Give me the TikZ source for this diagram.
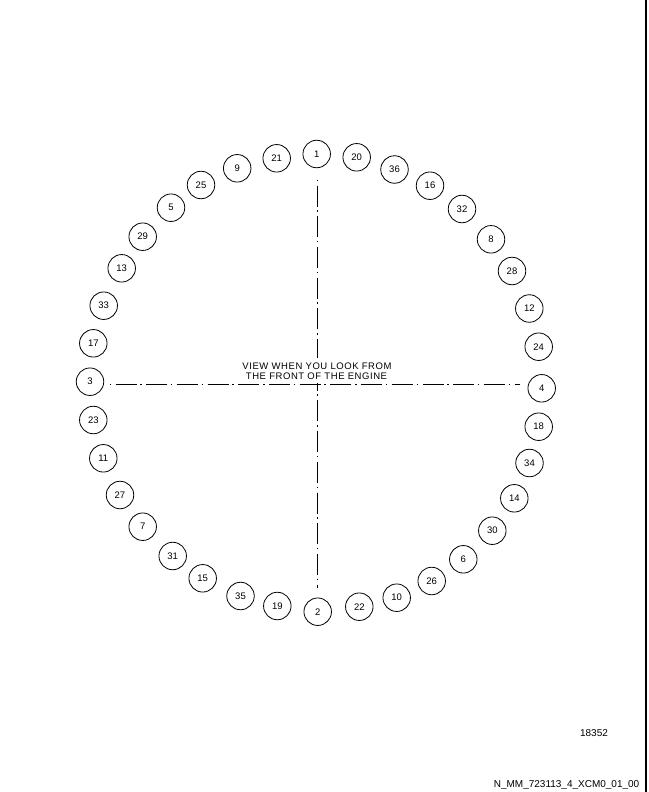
\documentclass[tikz,border=0pt]{standalone}
\usepackage{fontspec}
\setmainfont{Liberation Sans}
\newfontfamily\capfont[LetterSpace=6]{Liberation Sans}
\begin{document}
\begin{tikzpicture}[x=1pt,y=-1pt,
  boltc/.style={circle,draw=black,line width=0.8pt,minimum size=27.5pt,inner sep=0pt,font=\fontsize{9.5}{10}\selectfont},
  centerline/.style={draw=black,line width=0.8pt,dash pattern=on 1.5pt off 4.5pt on 21pt off 3.7pt},
  lbl/.style={inner sep=0pt,anchor=base,font=\capfont\fontsize{9.5}{10}\selectfont}]
\useasboundingbox (0,0) rectangle (648,792);
% bolt hole circles
\foreach \n/\px/\py in {1/316.7/154, 20/356.7/157.3, 36/394.5/169.5, 16/430/185.7,
  32/462/209, 8/491/239.3, 28/512/271, 12/529.3/308.5, 24/538.7/346.7,
  4/541.7/388.3, 18/538.7/426.7, 34/529.5/463, 14/514.3/498.3, 30/492.3/530.7,
  6/463.3/559.3, 26/431.7/581, 10/396.7/597.7, 22/359.3/606.7, 2/317.7/611.7,
  19/277.3/606, 35/240.5/596, 15/202.7/578.3, 31/172.7/556, 7/142.7/526.7,
  27/120/495, 11/103.3/458.3, 23/93.3/420, 3/90/381.7, 17/93.3/343.3,
  33/103.7/305.7, 13/121.7/268.3, 29/142.7/236.7, 5/171/207.7, 25/201/185,
  9/237.2/168.3, 21/276.7/158.3}
  {\node[boltc] (c\n) at (\px,\py) {\n};}
% center lines
\coordinate (vtop) at (317,179.5);
\coordinate (vbot) at (317,588);
\coordinate (hleft) at (109.5,384);
\coordinate (hright) at (520,384);
\draw[centerline] (vtop) -- (vbot);
\draw[centerline] (hleft) -- (hright);
% mask behind caption
\fill[white] (312,357.5) rectangle (322,382.5);
% caption
\node[lbl] (view1) at (317,369.3) {VIEW WHEN YOU LOOK FROM};
\node[lbl] (view2) at (316.5,379.3) {THE FRONT OF THE ENGINE};
% reference numbers
\node[inner sep=0pt,anchor=base,font=\fontsize{10}{12}\selectfont] (ref) at (594,736) {18352};
\node[inner sep=0pt,anchor=base east,font=\fontsize{10}{12}\selectfont] (code) at (639.5,787.3) {N\_MM\_723113\_4\_XCM0\_01\_00};
% right border
\draw[line width=1.5pt] (646.2,0) -- (646.2,792);
\end{tikzpicture}
\end{document}
